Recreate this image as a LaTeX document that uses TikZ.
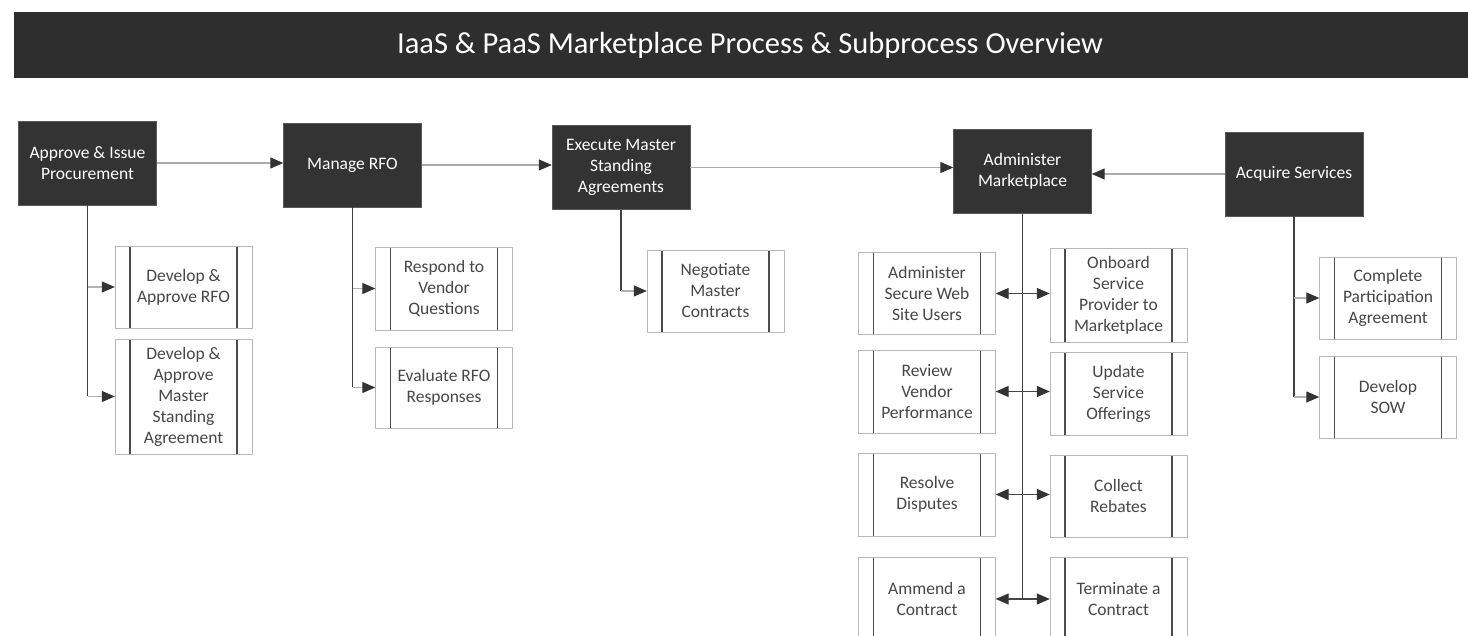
\documentclass[tikz,border=0pt]{standalone}
\usepackage{fontspec}
\setmainfont{Carlito}
\usetikzlibrary{arrows.meta}
\begin{document}
\begin{tikzpicture}[x=1pt,y=-1pt,
  mainbox/.style={fill=black!80, draw=black!65, text=white, minimum width=138pt,
    minimum height=84pt, inner sep=0pt, align=center,
    font=\fontsize{17.5}{21}\selectfont},
  subbox/.style={draw=gray!55, fill=white, minimum width=137pt, minimum height=82pt,
    inner sep=0pt, align=center, text=black!72,
    font=\fontsize{17.5}{21}\selectfont,
    path picture={
      \draw[black!70, line width=1.2pt]
        ([xshift=15pt]path picture bounding box.south west) --
        ([xshift=15pt]path picture bounding box.north west)
        ([xshift=-15pt]path picture bounding box.south east) --
        ([xshift=-15pt]path picture bounding box.north east);}},
  tip/.tip={Triangle[length=13pt,width=11pt,color=gray!40!black]},
  flow/.style={draw=gray!65, line width=1.2pt, -tip},
  spine/.style={draw=black!75, line width=1.6pt},
  branch/.style={draw=gray!60, line width=1.2pt, -tip},
  twoway/.style={draw=gray!55!black, line width=1.2pt, tip-tip},
]
\useasboundingbox (0,0) rectangle (1468,636);
\fill[white] (0,0) rectangle (1468,636);

% title banner
\node[fill=black!82, minimum width=1454pt, minimum height=66pt, inner sep=0pt,
  anchor=north west] (banner) at (14,12) {};
\node[text=white, font=\fontsize{30.5}{36}\selectfont] (title) at (750,45)
  {IaaS \& PaaS Marketplace Process \& Subprocess Overview};

% main process steps
\node[mainbox] (p1) at (87.5,163) {Approve \& Issue\\Procurement};
\node[mainbox] (p2) at (352.5,165) {Manage RFO};
\node[mainbox] (p3) at (621,167.5) {Execute Master\\Standing\\Agreements};
\node[mainbox] (p4) at (1022.5,171.5) {Administer\\Marketplace};
\node[mainbox] (p5) at (1294,174) {Acquire Services};

\draw[flow] (p1.east) -- (p1.east -| p2.west);
\draw[flow] (p2.east) -- (p2.east -| p3.west);
\draw[flow] (p3.east) -- (p3.east -| p4.west);
\draw[flow] (p5.west) -- (p5.west -| p4.east);

% subprocesses of step 1
\node[subbox] (s1a) at (183.5,287) {Develop \&\\Approve RFO};
\node[subbox, minimum height=115pt] (s1b) at (183.5,396.5)
  {Develop \&\\Approve\\Master\\Standing\\Agreement};
\draw[spine] (p1.south) -- (p1.south |- s1b.west);
\draw[branch] (p1.south |- s1a.west) -- (s1a.west);
\draw[branch] (p1.south |- s1b.west) -- (s1b.west);

% subprocesses of step 2
\node[subbox, minimum height=83pt] (s2a) at (444,288.5) {Respond to\\Vendor\\Questions};
\node[subbox, minimum height=81pt] (s2b) at (444,387.5) {Evaluate RFO\\Responses};
\draw[spine] (p2.south) -- (p2.south |- s2b.west);
\draw[branch] (p2.south |- s2a.west) -- (s2a.west);
\draw[branch] (p2.south |- s2b.west) -- (s2b.west);

% subprocess of step 3
\node[subbox] (s3a) at (715.5,291) {Negotiate\\Master\\Contracts};
\draw[spine] (p3.south) -- (p3.south |- s3a.west);
\draw[branch] (p3.south |- s3a.west) -- (s3a.west);

% subprocesses of step 4
\node[subbox] (l1) at (927,293.5) {Administer\\Secure Web\\Site Users};
\node[subbox, minimum height=94pt] (r1) at (1118.5,295) {Onboard\\Service\\Provider to\\Marketplace};
\node[subbox, minimum height=83pt] (l2) at (927,391.5) {Review\\Vendor\\Performance};
\node[subbox, minimum height=83pt] (r2) at (1118.5,393.5) {Update\\Service\\Offerings};
\node[subbox, minimum height=83pt] (l3) at (927,494.5) {Resolve\\Disputes};
\node[subbox] (r3) at (1118.5,496) {Collect\\Rebates};
\node[subbox, minimum height=84pt] (l4) at (927,599) {Ammend a\\Contract};
\node[subbox, minimum height=84pt] (r4) at (1118.5,599) {Terminate a\\Contract};
\coordinate (spineend) at (1022.5,600);
\draw[spine] (p4.south) -- (spineend);
\draw[twoway] (l1.east) -- (l1.east -| r1.west);
\draw[twoway] (l2.east) -- (l2.east -| r2.west);
\draw[twoway] (l3.east) -- (l3.east -| r3.west);
\draw[twoway] (l4.east) -- (l4.east -| r4.west);

% subprocesses of step 5
\node[subbox] (a1) at (1388,298) {Complete\\Participation\\Agreement};
\node[subbox] (a2) at (1388,397) {Develop\\SOW};
\draw[spine] (p5.south) -- (p5.south |- a2.west);
\draw[branch] (p5.south |- a1.west) -- (a1.west);
\draw[branch] (p5.south |- a2.west) -- (a2.west);
\end{tikzpicture}
\end{document}
